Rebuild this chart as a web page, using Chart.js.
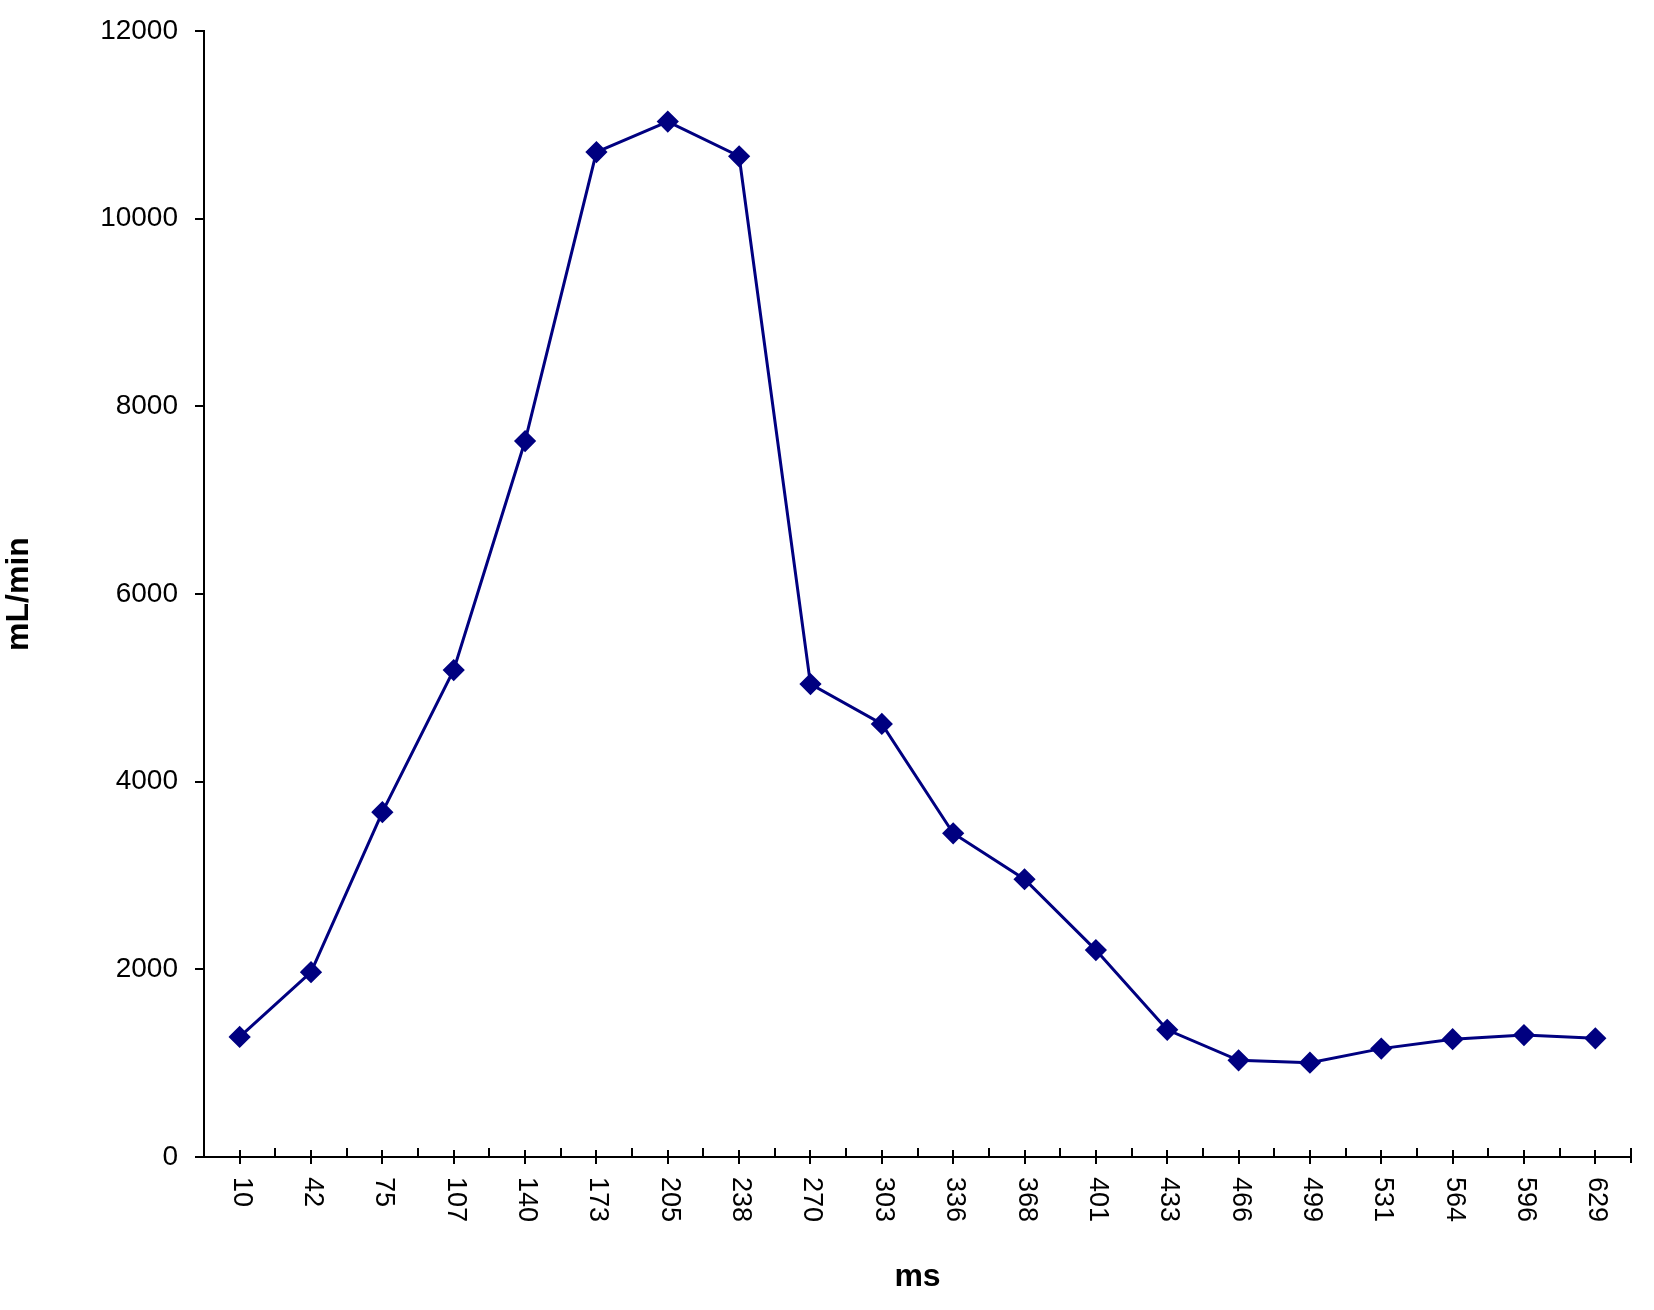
<!DOCTYPE html>
<html>
<head>
<meta charset="utf-8">
<script src="https://cdn.jsdelivr.net/npm/chart.js@4/dist/chart.umd.min.js"></script>
<style>
  html, body { margin: 0; padding: 0; background: #fff; }
  #wrap { width: 1654px; height: 1310px; }
</style>
</head>
<body>
<div id="wrap"><canvas id="flowChart" width="1654" height="1310"></canvas></div>
<script>
// time points (ms) and flow values (mL/min)
const timeLabels = ['10', '42', '75', '107', '140', '173', '205', '238', '270', '303',
  '336', '368', '401', '433', '466', '499', '531', '564', '596', '629'];
const flowValues = [1280, 1970, 3675, 5190, 7630, 10710, 11035, 10665, 5040, 4615,
  3450, 2960, 2205, 1355, 1030, 1005, 1155, 1255, 1300, 1265];
const yTicks = [0, 2000, 4000, 6000, 8000, 10000, 12000];

const fontFamily = '"Liberation Sans", Arial, Helvetica, sans-serif';

// x axis ticks + clockwise-rotated labels, drawn by hand
const xAxisPlugin = {
  id: 'xAxisPlugin',
  afterDraw(chart) {
    const ctx = chart.ctx;
    const xs = chart.scales.x;
    const bottom = chart.chartArea.bottom;
    ctx.save();
    ctx.strokeStyle = '#000';
    ctx.lineWidth = 2;
    // boundary ticks (above axis)
    for (let i = 0; i <= timeLabels.length; i++) {
      const x = Math.round(xs.getPixelForValue(i - 0.5));
      ctx.beginPath();
      ctx.moveTo(x, bottom - 9);
      ctx.lineTo(x, i === timeLabels.length ? bottom + 6 : bottom);
      ctx.stroke();
    }
    // label ticks (crossing axis)
    ctx.fillStyle = '#000';
    ctx.font = '27px ' + fontFamily;
    ctx.textAlign = 'left';
    ctx.textBaseline = 'middle';
    timeLabels.forEach((lab, i) => {
      const x = Math.round(xs.getPixelForValue(i));
      ctx.beginPath();
      ctx.moveTo(x, bottom - 7);
      ctx.lineTo(x, bottom + 7);
      ctx.stroke();
      ctx.save();
      ctx.translate(x + 1, bottom + 20);
      ctx.rotate(Math.PI / 2);
      ctx.fillText(lab, 0, 0);
      ctx.restore();
    });
    ctx.restore();
  }
};

const ctx = document.getElementById('flowChart').getContext('2d');
new Chart(ctx, {
  type: 'line',
  data: {
    labels: timeLabels,
    datasets: [{
      data: flowValues,
      borderColor: '#000080',
      backgroundColor: '#000080',
      borderWidth: 3,
      pointStyle: 'rectRot',
      pointRadius: 9,
      pointHoverRadius: 9,
      tension: 0,
      fill: false
    }]
  },
  options: {
    responsive: false,
    animation: false,
    layout: { padding: { top: 24, right: 23, bottom: 0, left: 0 } },
    plugins: {
      legend: { display: false },
      tooltip: { enabled: false }
    },
    scales: {
      x: {
        type: 'category',
        offset: true,
        grid: { display: false },
        border: { display: true, color: '#000', width: 2 },
        ticks: { display: false },
        title: {
          display: true,
          text: 'ms',
          color: '#000',
          font: { family: fontFamily, size: 32, weight: 'bold' },
          padding: { top: 0, bottom: 14 }
        },
        afterFit(scale) { scale.height = 153; }
      },
      y: {
        min: 0,
        max: 12000,
        afterBuildTicks(scale) { scale.ticks = yTicks.map(v => ({ value: v })); },
        grid: {
          drawOnChartArea: false,
          drawTicks: true,
          tickLength: 9,
          color: '#000',
          lineWidth: 2
        },
        border: { display: true, color: '#000', width: 2 },
        ticks: {
          color: '#000',
          padding: 17,
          font: { family: fontFamily, size: 28, lineHeight: 1 },
          callback: v => String(v)
        },
        title: {
          display: true,
          text: 'mL/min',
          color: '#000',
          font: { family: fontFamily, size: 32, weight: 'bold' },
          padding: { top: 0, bottom: 0 }
        },
        afterFit(scale) { scale.width = 204; }
      }
    }
  },
  plugins: [xAxisPlugin]
});
</script>
</body>
</html>
